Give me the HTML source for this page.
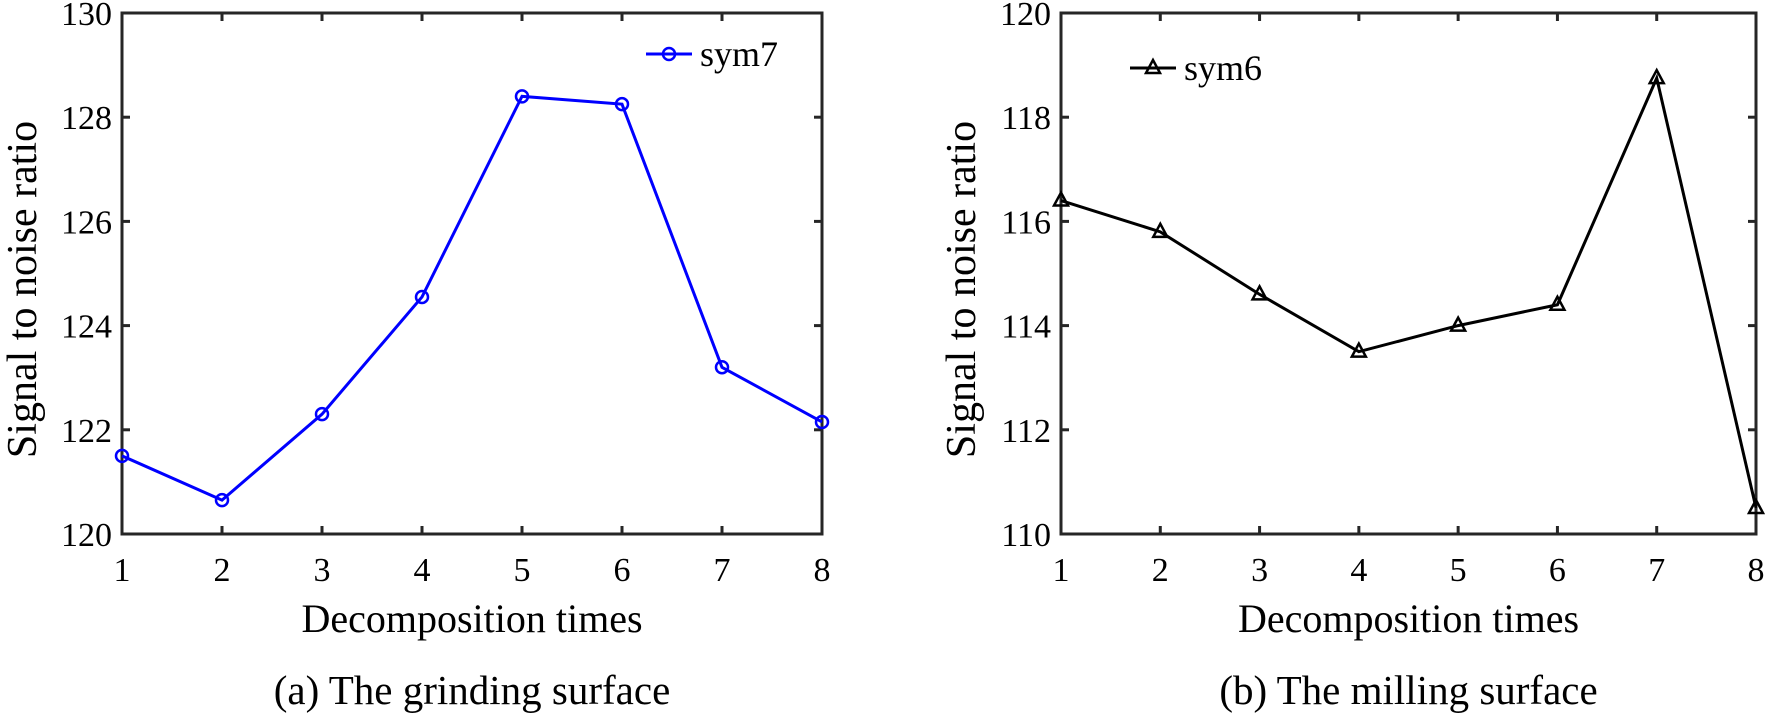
<!DOCTYPE html>
<html><head><meta charset="utf-8"><style>
body{margin:0;background:#fff}
svg text{font-family:"Liberation Serif",serif;fill:#000}
</style></head><body>
<svg id="s" width="1769" height="719" xmlns="http://www.w3.org/2000/svg"></svg>
<script>
const xCats=[1,2,3,4,5,6,7,8];
const gValues=[121.5,120.65,122.3,124.55,128.4,128.25,123.2,122.15];
const mValues=[116.4,115.8,114.6,113.5,114.0,114.4,118.75,110.5];
const gTicks=[120,122,124,126,128,130];
const mTicks=[110,112,114,116,118,120];
const NS="http://www.w3.org/2000/svg";
const svg=document.getElementById('s');
function el(t,a,p){const e=document.createElementNS(NS,t);for(const k in a)e.setAttribute(k,a[k]);(p||svg).appendChild(e);return e;}
function panel(o){
  const g=el('g',{});
  
  
  const L=o.x0,R=o.x1,T=13,B=534;
  const xs=v=>L+(v-1)/7*(R-L);
  const ys=v=>B-(v-o.ymin)/(o.ymax-o.ymin)*(B-T);
  const box=el('rect',{x:L,y:T,width:R-L,height:B-T,fill:'none',stroke:'#262626','stroke-width':3},g);
  
  
  xCats.forEach(c=>{
    const x=xs(c);
    el('line',{x1:x,y1:B,x2:x,y2:B-8,stroke:'#262626','stroke-width':3},g);
    el('line',{x1:x,y1:T,x2:x,y2:T+8,stroke:'#262626','stroke-width':3},g);
    const t=el('text',{x:x,y:581,'font-size':34,'text-anchor':'middle'},g);t.textContent=c;
    
    
  });
  o.ticks.forEach(v=>{
    const y=ys(v);
    el('line',{x1:L,y1:y,x2:L+8,y2:y,stroke:'#262626','stroke-width':3},g);
    el('line',{x1:R,y1:y,x2:R-8,y2:y,stroke:'#262626','stroke-width':3},g);
    const t=el('text',{x:L-10,y:y+12,'font-size':34,'text-anchor':'end'},g);t.textContent=v;
    
    
  });
  const pts=o.vals.map((v,i)=>xs(xCats[i])+','+ys(v)).join(' ');
  const pl=el('polyline',{points:pts,fill:'none',stroke:o.color,'stroke-width':3},g);
  
  
  function marker(x,y){
    let m;
    if(o.marker==='o') m=el('circle',{cx:x,cy:y,r:6,fill:'none',stroke:o.color,'stroke-width':2.5},g);
    else m=el('polygon',{points:`${x},${y-8} ${x-7},${y+5} ${x+7},${y+5}`,fill:'none',stroke:o.color,'stroke-width':2.5},g);
    return m;
  }
  o.vals.forEach((v,i)=>{
    const m=marker(xs(xCats[i]),ys(v));
    
    
  });
  const lg=el('g',{},g);
  
  
  el('line',{x1:o.lx,y1:o.ly,x2:o.lx+46,y2:o.ly,stroke:o.color,'stroke-width':3},lg);
  marker(o.lx+23,o.ly);
  const lt=el('text',{x:o.lx+54,y:o.ly+12,'font-size':36},lg);lt.textContent=o.series;
  const yl=el('text',{x:0,y:0,'font-size':42,'text-anchor':'middle',transform:`translate(${L-86},${(T+B)/2+16}) rotate(-90)`},g);
  yl.textContent='Signal to noise ratio';
  
  
  const xl=el('text',{x:(L+R)/2,y:632,'font-size':40,'text-anchor':'middle'},g);
  xl.textContent='Decomposition times';
  
  
  const cp=el('text',{x:(L+R)/2,y:704,'font-size':41,'text-anchor':'middle'},g);
  cp.textContent=o.caption;
  
  
}
panel({name:'grinding-chart',x0:122,x1:822,ymin:120,ymax:130,ticks:gTicks,vals:gValues,color:'#0000ff',marker:'o',series:'sym7',lx:646,ly:54,caption:'(a) The grinding surface'});
panel({name:'milling-chart',x0:1061,x1:1756,ymin:110,ymax:120,ticks:mTicks,vals:mValues,color:'#000000',marker:'^',series:'sym6',lx:1130,ly:68,caption:'(b) The milling surface'});
</script>
</body></html>
